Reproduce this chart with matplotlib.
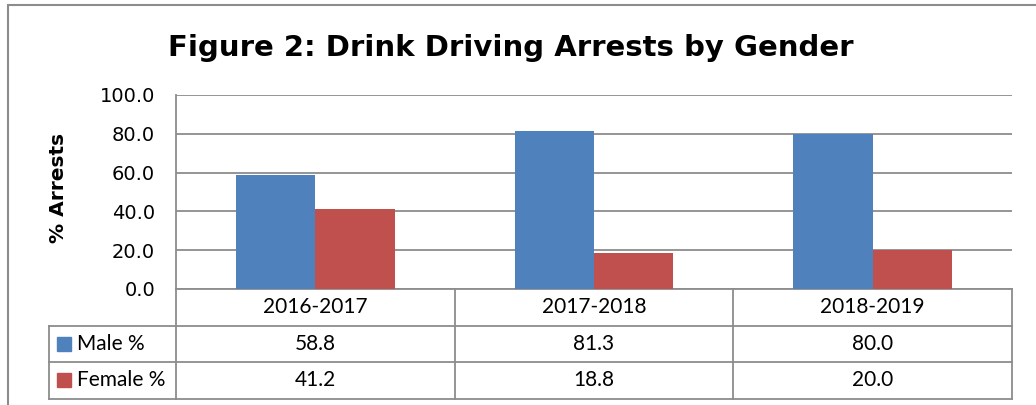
import matplotlib.pyplot as plt
import numpy as np
from matplotlib.patches import Rectangle
from matplotlib.lines import Line2D
import matplotlib.transforms as mtransforms

periods = ["2016-2017", "2017-2018", "2018-2019"]
male_pct = [58.8, 81.3, 80.0]
female_pct = [41.2, 18.8, 20.0]
series_names = ["Male %", "Female %"]
series_colors = ["#4F81BD", "#C0504D"]
y_ticks = [0, 20, 40, 60, 80, 100]

W, H = 1036, 405
fig = plt.figure(figsize=(W / 100, H / 100), dpi=100)

# outer chart frame (runs off the right and bottom edges)
fig.add_artist(Rectangle((8 / W, -0.1), 1.2, 1.1 - 5 / H, transform=fig.transFigure,
                         fill=False, edgecolor="#8c8c8c", linewidth=1.5))

ax = fig.add_axes([176 / W, (H - 289) / H, (1012 - 176) / W, 194 / H])

x = np.arange(len(periods))
bw = 0.285
ax.bar(x - bw / 2, male_pct, bw, color=series_colors[0], zorder=3)
ax.bar(x + bw / 2, female_pct, bw, color=series_colors[1], zorder=3)

ax.set_xlim(-0.5, len(periods) - 0.5)
ax.set_ylim(0, 100)
ax.set_yticks(y_ticks)
ax.set_yticklabels([f"{v:.1f}" for v in y_ticks], fontsize=14, family="DejaVu Sans")
ax.set_xticks([])
ax.tick_params(axis="y", length=0, pad=15)
ax.yaxis.grid(True, color="#8c8c8c", linewidth=1.3)
ax.set_axisbelow(True)
for s in ["right", "bottom", "top"]:
    ax.spines[s].set_visible(False)
ax.spines["left"].set_color("#8c8c8c")
ax.spines["left"].set_linewidth(1.3)

ax.set_ylabel("% Arrests", fontsize=14.5, fontweight="bold", va="center")
ax.yaxis.set_label_coords(-118 / 836, 0.52)

fig.text(511 / W, 1 - 48 / H, "Figure 2: Drink Driving Arrests by Gender",
         ha="center", va="center", fontsize=21, fontweight="bold")

# data table under the plot: x in data units, y in axes fraction
tr = mtransforms.blended_transform_factory(ax.transData, ax.transAxes)
row_h = 36.5 / 194
y_head = 0.0
y_rows = [-row_h, -2 * row_h, -3 * row_h]
px = 836 / 3  # pixels per category
x_left = -0.5 - 127 / px
x_right = len(periods) - 0.5
lc = "#8c8c8c"
lw = 1.3
cell_font = dict(fontsize=15, family="Lato")

def hline(x0, x1, y):
    ax.add_line(Line2D([x0, x1], [y, y], transform=tr, color=lc, lw=lw, clip_on=False))

def vline(xv, y0, y1):
    ax.add_line(Line2D([xv, xv], [y0, y1], transform=tr, color=lc, lw=lw, clip_on=False))

hline(-0.5, x_right, y_head)
for yr in y_rows:
    hline(x_left, x_right, yr)
vline(x_left, y_rows[0], y_rows[2])
for i in range(len(periods) + 1):
    vline(i - 0.5, y_head, y_rows[2])

for i, p in enumerate(periods):
    ax.text(i, -row_h / 2, p, transform=tr, ha="center", va="center", **cell_font)

for r, (name, vals, col) in enumerate(zip(series_names, [male_pct, female_pct], series_colors)):
    yc = y_rows[r] - row_h / 2
    for i, v in enumerate(vals):
        ax.text(i, yc, f"{v:.1f}", transform=tr, ha="center", va="center", **cell_font)
    ax.add_patch(Rectangle((x_left + 8 / px, yc - 7 / 194), 14 / px, 14 / 194,
                           transform=tr, color=col, clip_on=False))
    ax.text(x_left + 28 / px, yc, name, transform=tr, ha="left", va="center", **cell_font)

fig.savefig("out.png", dpi=100)
